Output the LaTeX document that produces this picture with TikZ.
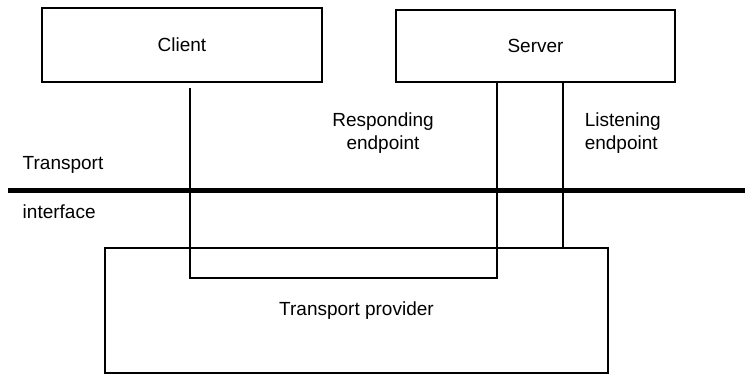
\documentclass[tikz,border=0pt]{standalone}
\usepackage{fontspec}
\setmainfont{Liberation Sans}
\usepackage{tikz}

\begin{document}
\begin{tikzpicture}[x=1pt,y=-1pt,line width=1.5pt,
        box/.style={draw,rectangle,inner sep=0pt},
        lbl/.style={inner sep=0pt,font=\fontsize{19}{23}\selectfont}]
    \useasboundingbox (0,0) rectangle (745,374);
    % boxes
    \node[box,minimum width=280pt,minimum height=74pt,lbl] (client) at (182,45) {Client};
    \node[box,minimum width=279pt,minimum height=72pt,lbl] (server) at (535.5,46) {Server};
    \node[box,minimum width=503pt,minimum height=125pt,lbl] (provider) at (356.5,310.5) {Transport provider};
    % transport interface
    \coordinate (ifl) at (8,191);
    \coordinate (ifr) at (745,191);
    \draw[line width=5pt] (ifl) -- (ifr);
    \node[lbl,anchor=west] (tr) at (22,165) {Transport};
    \node[lbl,anchor=west] (itf) at (22,212) {interface};
    % endpoints
    \coordinate (cl) at (190,88);
    \coordinate (rs) at (server.south -| 497,0);
    \draw (cl) -- (190,278) -- (497,278) -- (rs);
    \draw (server.south -| 563,0) -- (provider.north -| 563,0);
    \node[lbl,align=center] (resp) at (383,133) {Responding\\endpoint};
    \node[lbl,align=left,anchor=west] (lis) at (584,133) {Listening\\endpoint};
\end{tikzpicture}
\end{document}
